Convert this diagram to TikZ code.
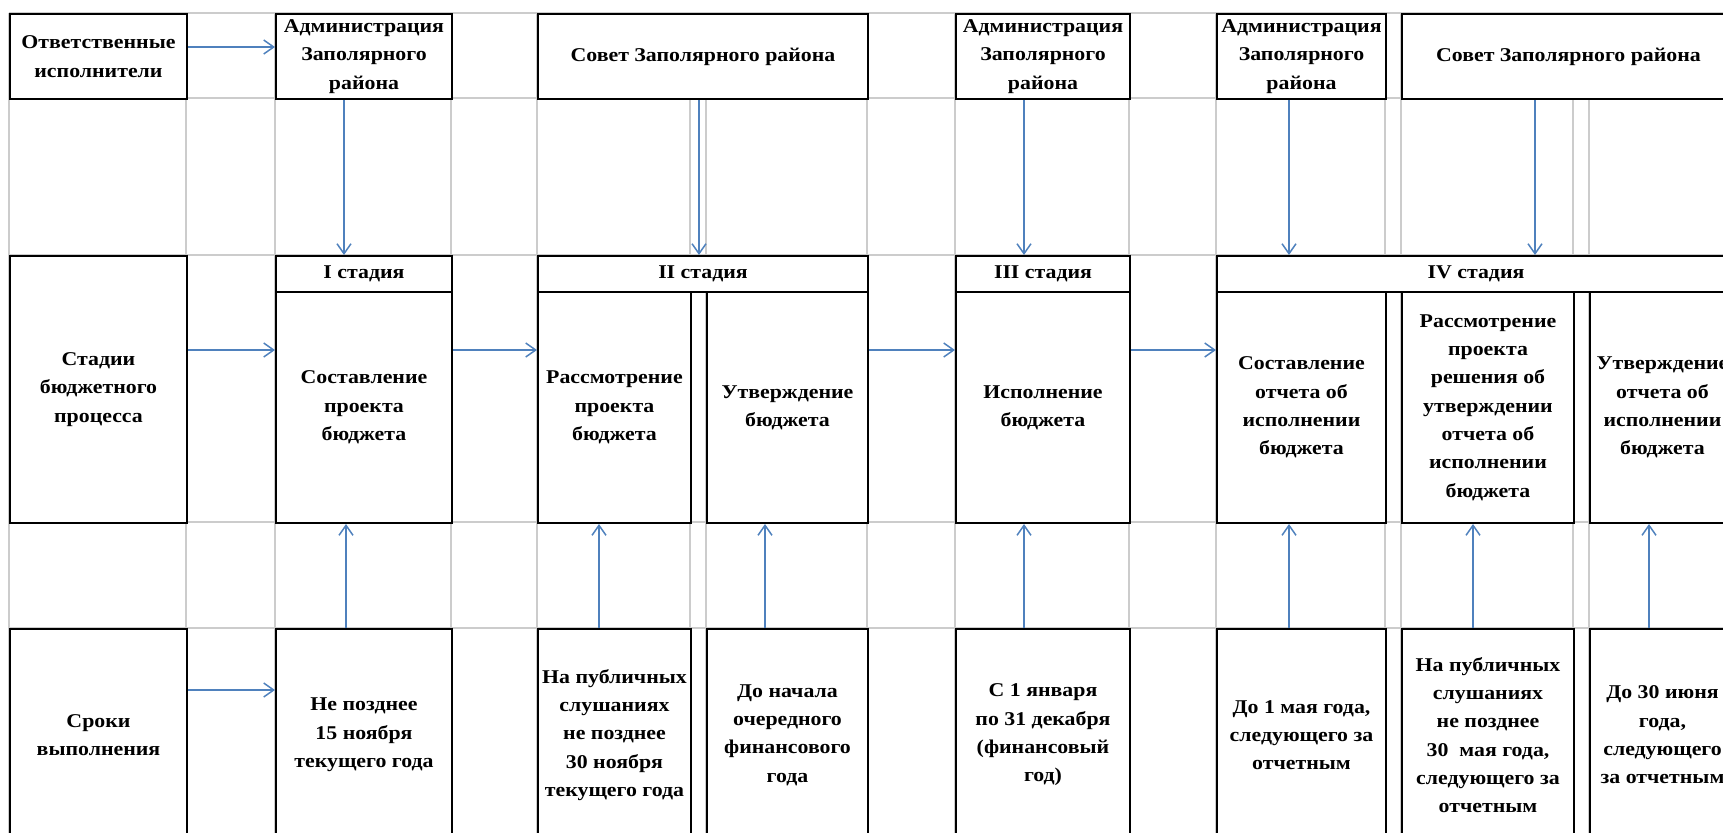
\documentclass[tikz,border=0pt]{standalone}
\usepackage{fontspec}
\setmainfont{Liberation Serif}[FakeStretch=1.12]
\usepackage{xcolor}
\usetikzlibrary{arrows.meta}

\definecolor{gridgrey}{RGB}{204,204,204}
\definecolor{arrblue}{RGB}{79,129,189}

\tikzset{
  box/.style={draw=black, line width=1pt, fill=white, anchor=north west, inner sep=0pt,
    align=center, font=\fontsize{9.75}{14.15}\selectfont\bfseries},
  gridline/.style={draw=gridgrey, line width=1pt},
  arr/.style={draw=arrblue, line width=0.75pt, -{Straight Barb[length=5pt,width=7pt]}}
}

\begin{document}
\begin{tikzpicture}[x=0.5pt,y=-0.5pt]
  \useasboundingbox (0,0) rectangle (1723,832);
  \clip (0,0) rectangle (1723,832);

  %Grid of the table
  \foreach \gy in {13,98,255,522,628}
    \draw[gridline] (9,\gy) -- (1760,\gy);
  \foreach \gx in {9,186,275,451,537,690,706,867,955,1129,1216,1385,1401,1573,1589}
    \draw[gridline] (\gx,13) -- (\gx,850);

  %Row: responsible bodies
  \node[box, minimum width=88.5pt, minimum height=42.5pt] (otv) at (9,13) {Ответственные\\исполнители};
  \node[box, minimum width=88pt, minimum height=42.5pt] (adm1) at (275,13) {Администрация\\Заполярного\\района};
  \node[box, minimum width=165pt, minimum height=42.5pt] (sov1) at (537,13) {Совет Заполярного района};
  \node[box, minimum width=87pt, minimum height=42.5pt] (adm2) at (955,13) {Администрация\\Заполярного\\района};
  \node[box, minimum width=84.5pt, minimum height=42.5pt] (adm3) at (1216,13) {Администрация\\Заполярного\\района};
  \node[box, minimum width=166.5pt, minimum height=42.5pt] (sov2) at (1401,13) {Совет Заполярного района};

  %Row: stages
  \node[box, minimum width=88.5pt, minimum height=133.5pt] (stages) at (9,255) {Стадии\\бюджетного\\процесса};
  \node[box, minimum width=88pt, minimum height=18pt] (st1h) at (275,255) {I стадия};
  \node[box, minimum width=88pt, minimum height=115.5pt] (st1) at (275,291) {Составление\\проекта\\бюджета};
  \node[box, minimum width=165pt, minimum height=18pt] (st2h) at (537,255) {II стадия};
  \node[box, minimum width=76.5pt, minimum height=115.5pt] (st2a) at (537,291) {Рассмотрение\\проекта\\бюджета};
  \node[box, minimum width=80.5pt, minimum height=115.5pt] (st2b) at (706,291) {Утверждение\\бюджета};
  \node[box, minimum width=87pt, minimum height=18pt] (st3h) at (955,255) {III стадия};
  \node[box, minimum width=87pt, minimum height=115.5pt] (st3) at (955,291) {Исполнение\\бюджета};
  \node[box, minimum width=259pt, minimum height=18pt] (st4h) at (1216,255) {IV стадия};
  \node[box, minimum width=84.5pt, minimum height=115.5pt] (st4a) at (1216,291) {Составление\\отчета об\\исполнении\\бюджета};
  \node[box, minimum width=86pt, minimum height=115.5pt] (st4b) at (1401,291) {Рассмотрение\\проекта\\решения об\\утверждении\\отчета об\\исполнении\\бюджета};
  \node[box, minimum width=72.5pt, minimum height=115.5pt] (st4c) at (1589,291) {Утверждение\\отчета об\\исполнении\\бюджета};

  %Row: terms
  \node[box, minimum width=88.5pt, minimum height=106pt] (terms) at (9,628) {Сроки\\выполнения};
  \node[box, minimum width=88pt, minimum height=106pt] (t1) at (275,628) {Не позднее\\15 ноября\\текущего года};
  \node[box, minimum width=76.5pt, minimum height=106pt] (t2a) at (537,628) {На публичных\\слушаниях\\не позднее\\30 ноября\\текущего года};
  \node[box, minimum width=80.5pt, minimum height=106pt] (t2b) at (706,628) {До начала\\очередного\\финансового\\года};
  \node[box, minimum width=87pt, minimum height=106pt] (t3) at (955,628) {С 1 января\\по 31 декабря\\(финансовый\\год)};
  \node[box, minimum width=84.5pt, minimum height=106pt] (t4a) at (1216,628) {До 1 мая года,\\следующего за\\отчетным};
  \node[box, minimum width=86pt, minimum height=106pt] (t4b) at (1401,628) {На публичных\\слушаниях\\не позднее\\30~~мая года,\\следующего за\\отчетным};
  \node[box, minimum width=72.5pt, minimum height=106pt] (t4c) at (1589,628) {До 30 июня\\года,\\следующего\\за отчетным};

  %Arrows: responsible -> stages
  \draw[arr] (otv.east |- 0,47) -- (adm1.west |- 0,47);
  \draw[arr] (adm1.south -| 344,0) -- (st1h.north -| 344,0);
  \draw[arr] (sov1.south -| 699,0) -- (st2h.north -| 699,0);
  \draw[arr] (adm2.south -| 1024,0) -- (st3h.north -| 1024,0);
  \draw[arr] (adm3.south -| 1289,0) -- (st4h.north -| 1289,0);
  \draw[arr] (sov2.south -| 1535,0) -- (st4h.north -| 1535,0);

  %Arrows: stage to stage
  \draw[arr] (stages.east |- 0,350) -- (st1.west |- 0,350);
  \draw[arr] (st1.east |- 0,350) -- (st2a.west |- 0,350);
  \draw[arr] (st2b.east |- 0,350) -- (st3.west |- 0,350);
  \draw[arr] (st3.east |- 0,350) -- (st4a.west |- 0,350);

  %Arrows: terms -> stages
  \draw[arr] (terms.east |- 0,690) -- (t1.west |- 0,690);
  \draw[arr] (t1.north -| 346,0) -- (st1.south -| 346,0);
  \draw[arr] (t2a.north -| 599,0) -- (st2a.south -| 599,0);
  \draw[arr] (t2b.north -| 765,0) -- (st2b.south -| 765,0);
  \draw[arr] (t3.north -| 1024,0) -- (st3.south -| 1024,0);
  \draw[arr] (t4a.north -| 1289,0) -- (st4a.south -| 1289,0);
  \draw[arr] (t4b.north -| 1473,0) -- (st4b.south -| 1473,0);
  \draw[arr] (t4c.north -| 1649,0) -- (st4c.south -| 1649,0);
\end{tikzpicture}
\end{document}
